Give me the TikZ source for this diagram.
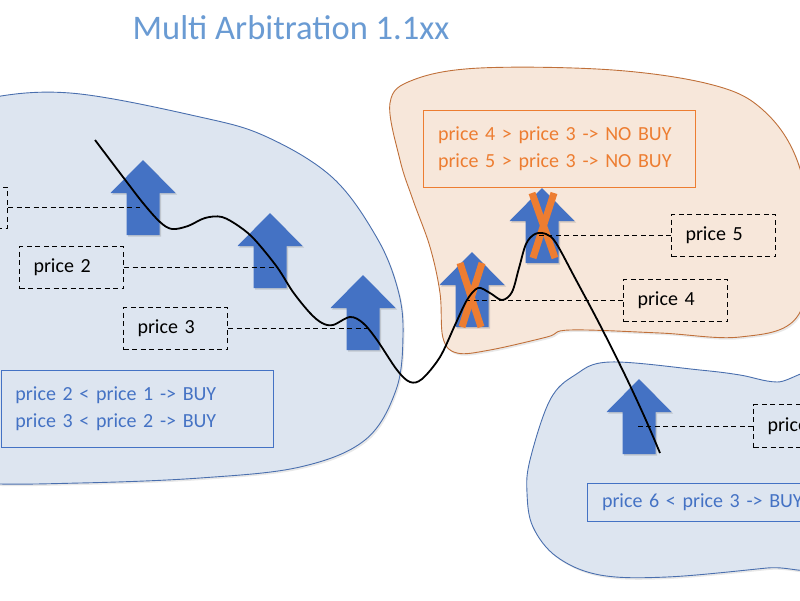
\documentclass[tikz,border=0pt]{standalone}
\usepackage{fontspec}
\setmainfont{Carlito}
\usetikzlibrary{shadows}
\definecolor{blobfill}{HTML}{DDE5F0}
\definecolor{blobline}{HTML}{4A6FAE}
\definecolor{orfill}{HTML}{F7E7DA}
\definecolor{orline}{HTML}{C0703A}
\definecolor{ortext}{HTML}{ED7D31}
\definecolor{bltext}{HTML}{4472C4}
\definecolor{arrblue}{HTML}{4472C4}
\definecolor{titleblue}{HTML}{6A9BD3}
\newcommand\blockarrowat[1]{\path[arrowstyle] (#1) +(-16.5,0) -- +(16.5,0) -- +(16.5,-42) -- +(32.5,-42) -- +(0,-75) -- +(-32.5,-42) -- +(-16.5,-42) -- cycle;}
\newcommand\tightfont[2]{\fontsize{#1}{#2}\selectfont\spaceskip=0.15em plus 0.05em minus 0.03em\relax}
\tikzset{
  blueblob/.style={fill=blobfill, draw=blobline, line width=0.9pt, drop shadow={opacity=0.18, shadow xshift=1.5pt, shadow yshift=-2pt}},
  orblob/.style={fill=orfill, draw=orline, line width=0.9pt, drop shadow={opacity=0.18, shadow xshift=1.5pt, shadow yshift=-2pt}},
  arrowstyle/.style={fill=arrblue, drop shadow={opacity=0.3, shadow xshift=1.5pt, shadow yshift=-1.5pt}},
  xmark/.style={draw=ortext, line width=7pt},
  dbox/.style={draw=black, dash pattern=on 5pt off 3.5pt, line width=1pt, text width=76pt, inner xsep=14pt, inner ysep=0pt, minimum height=42pt, align=left, font=\tightfont{20}{24}},
  dline/.style={draw=black, dash pattern=on 5pt off 3.5pt, line width=1pt},
  rulebox/.style={line width=1pt, inner xsep=14.5pt, inner ysep=0pt, align=left, font=\tightfont{20}{27}},
  price/.style={draw=black, line width=1.8pt}
}
\begin{document}
\begin{tikzpicture}[x=1pt,y=-1pt]
\useasboundingbox (0,0) rectangle (800,600);
% title
\node[text=titleblue, font=\fontsize{34.5}{36}\selectfont] (title) at (291,28) {Multi Arbitration 1.1xx};
% blobs
\path[blueblob] plot[smooth cycle, tension=0.6] coordinates {(-80,125) (-20,100) (70,93) (200,117) (267,137) (333,178) (377,238) (398,290) (403,335) (396,390) (365,440) (300,467) (200,478) (80,483) (-20,483) (-80,470)};
\path[orblob] plot[smooth cycle, tension=0.6] coordinates {(390,103) (413,80) (480,68) (613,70) (713,85) (763,110) (797,160) (812,240) (797,317) (740,337) (660,333) (570,330) (547,337) (490,350) (457,353) (443,338) (440,293) (430,247) (413,200) (400,160)};
\path[blueblob] plot[smooth cycle, tension=0.6] coordinates {(610,362) (700,370) (740,375) (777,382) (820,377) (830,470) (820,562) (767,568) (667,577) (600,575) (557,557) (533,527) (527,493) (530,460) (550,400) (575,375)};
% rule boxes
\node[rulebox, draw=bltext, text=bltext, anchor=north west, text width=243.5pt, minimum height=77pt] (r1) at (0.5,370) {price 2 < price 1 -> BUY\\price 3 < price 2 -> BUY};
\node[rulebox, draw=ortext, text=ortext, anchor=north west, text width=243pt, minimum height=77pt] (r2) at (423,110) {price 4 > price 3 -> NO BUY\\price 5 > price 3 -> NO BUY};
\node[rulebox, draw=bltext, text=bltext, anchor=north west, text width=250pt, minimum height=38pt] (r3) at (587,483) {price 6 < price 3 -> BUY};
% price boxes
\node[dbox, anchor=east, minimum height=41pt] (p1) at (8,207.5) {};
\node[dbox, anchor=north west] (p2) at (19,246) {price 2};
\node[dbox, anchor=north west] (p3) at (123,307) {price 3};
\node[dbox, anchor=north west] (p4) at (623,279) {price 4};
\node[dbox, anchor=north west] (p5) at (671,214) {price 5};
\node[dbox, anchor=north west, minimum height=43pt] (p6) at (753,404) {price 6};
% arrows
\coordinate (a1) at (143,235);
\coordinate (a2) at (270,288);
\coordinate (a3) at (363,350);
\coordinate (a4) at (472,327);
\coordinate (a5) at (542,263);
\coordinate (a6) at (639,454);
\blockarrowat{a1}
\blockarrowat{a2}
\blockarrowat{a3}
\blockarrowat{a4}
\blockarrowat{a5}
\blockarrowat{a6}
% crosses
\draw[xmark] ([shift={(-12,-64)}]a4) -- ([shift={(9,0)}]a4);
\draw[xmark] ([shift={(10,-64)}]a4) -- ([shift={(-10,0)}]a4);
\draw[xmark] ([shift={(-10,-70)}]a5) -- ([shift={(13,-5)}]a5);
\draw[xmark] ([shift={(12,-70)}]a5) -- ([shift={(-9,-5)}]a5);
% dashed leaders
\draw[dline] (p1.east) -- ([xshift=-3pt]p1.east -| a1);
\draw[dline] (p2.east) -- ([xshift=7pt]p2.east -| a2);
\draw[dline] (p3.east) -- ([xshift=9pt]p3.east -| a3);
\draw[dline] (p4.west) -- ([xshift=-4pt]p4.west -| a4);
\draw[dline] (p5.west) -- ([xshift=-5pt]p5.west -| a5);
\draw[dline] (p6.west) -- ([xshift=-2pt]p6.west -| a6);
% price curve
\draw[price] plot[smooth, tension=0.55] coordinates {(95,140) (123,177) (143,203) (160,222) (172,229) (188,226) (205,218) (222,217) (240,227) (255,240) (277,267) (293,292) (310,313) (322,323) (333,325) (350,317) (363,323) (377,340) (397,370) (410,382) (422,379) (440,357) (455,325) (467,300) (478,288) (490,293) (502,300) (512,292) (519,268) (526,244) (535,234) (546,234) (556,243) (575,278) (600,325) (625,375) (645,418) (660,453)};
\end{tikzpicture}
\end{document}
